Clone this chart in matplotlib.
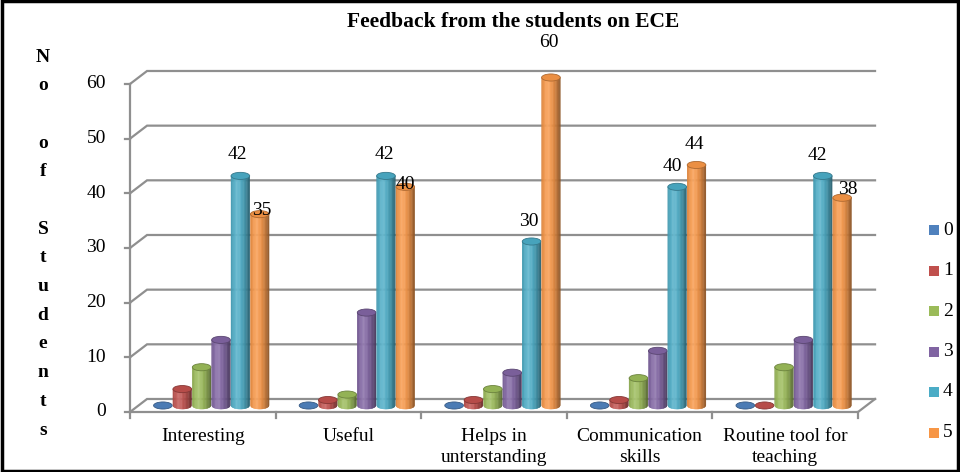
import numpy as np
import matplotlib
matplotlib.use('Agg')
import matplotlib.pyplot as plt
from matplotlib.patches import Ellipse, Rectangle
from matplotlib.collections import PolyCollection
from matplotlib.colors import to_rgb

plt.rcParams['font.family'] = ['Liberation Serif', 'DejaVu Serif']

# data
categories = ['Interesting', 'Useful', 'Helps in\nunterstanding',
              'Communication\nskills', 'Routine tool for\nteaching']
series_names = ['0', '1', '2', '3', '4', '5']
s0 = [0, 0, 0, 0, 0]
s1 = [3, 1, 1, 1, 0]
s2 = [7, 2, 3, 5, 7]
s3 = [12, 17, 6, 10, 12]
s4 = [42, 42, 30, 40, 42]
s5 = [35, 40, 60, 44, 38]
series = [s0, s1, s2, s3, s4, s5]
colors = ['#4F81BD', '#C0504D', '#9BBB59', '#8064A2', '#4BACC6', '#F79646']
yticks = [0, 10, 20, 30, 40, 50, 60]

fig = plt.figure(figsize=(9.6, 4.72), dpi=100)
ax = fig.add_axes([130 / 960, 60 / 472, 728 / 960, 328 / 472])
ax.set_xlim(0, 5)
ax.set_ylim(0, 60)
ax.axis('off')

DX, DY = 0.117, 2.38      # depth offset of the back wall (data units)
S, W, EH = 0.133, 0.128, 1.3  # bar spacing, bar width, ellipse height
grid_c = '#8f8f8f'
fs = 14
n = len(categories)

# back wall gridlines + floor
for v in yticks:
    ax.plot([0, DX, n + DX], [v, v + DY, v + DY], color=grid_c, lw=1.6,
            clip_on=False, zorder=1, solid_joinstyle='miter')
    ax.plot([-0.035, 0], [v, v], color=grid_c, lw=1.6, clip_on=False, zorder=1)
    ax.text(-0.165, v, str(v), ha='right', va='center', fontsize=fs)
ax.plot([0, 0], [0, 60], color=grid_c, lw=1.6, clip_on=False, zorder=1)
ax.plot([0, n, n + DX], [0, 0, DY], color=grid_c, lw=1.6, clip_on=False, zorder=1)
for i in range(n + 1):
    ax.plot([i, i], [0, -1.1], color=grid_c, lw=1.6, clip_on=False, zorder=1)
for i, c in enumerate(categories):
    ax.text(i + 0.5, -3.0, c, ha='center', va='top', fontsize=fs, linespacing=1.25)


def shade(base, t):
    b = np.array(to_rgb(base))
    dark = 0.45 * ((t - 0.35) / 0.65) ** 2
    light = 0.25 * np.exp(-((t - 0.35) / 0.18) ** 2)
    col = b * (1 - dark)
    col = col + (1 - col) * light * 0.6
    return np.clip(col, 0, 1)


NS = 24
for j, vals in enumerate(series):
    base = colors[j]
    for i, v in enumerate(vals):
        cx = i + 0.5 + DX / 2 + (j - 2.5) * S
        y0 = DY / 2
        y1 = v + DY / 2
        if v > 0:
            xs = np.linspace(cx - W / 2, cx + W / 2, NS + 1)
            polys, cols = [], []
            for k in range(NS):
                xa, xb = xs[k], xs[k + 1]
                ua = np.clip((xa - cx) / (W / 2), -1, 1)
                ub = np.clip((xb - cx) / (W / 2), -1, 1)
                ya = y0 - EH / 2 * np.sqrt(1 - ua ** 2)
                yb = y0 - EH / 2 * np.sqrt(1 - ub ** 2)
                polys.append([(xa, ya), (xb, yb), (xb, y1), (xa, y1)])
                cols.append(shade(base, (k + 0.5) / NS))
            pc = PolyCollection(polys, facecolors=cols, edgecolors=cols,
                                linewidths=0.3, clip_on=False, zorder=3 + j)
            ax.add_collection(pc)
        top_c = np.array(to_rgb(base)) * 0.95
        ax.add_patch(Ellipse((cx, y1), W, EH, facecolor=top_c,
                             edgecolor=np.array(to_rgb(base)) * 0.7,
                             lw=0.6, clip_on=False, zorder=3 + j))

# value labels for series 4 and 5 (pixel offsets from the bar tops)
label_off = {4: [(-3, 21), (-2, 21), (-3, 20), (-5, 20), (-5, 20)],
             5: [(2, 4), (0, 2), (-2, 35), (-2, 20), (6, 8)]}
for j, offs in label_off.items():
    for i, v in enumerate(series[j]):
        cx = i + 0.5 + DX / 2 + (j - 2.5) * S
        ax.annotate(str(v), (cx, v + DY / 2),
                    xytext=(offs[i][0] * 0.72, offs[i][1] * 0.72),
                    textcoords='offset points', ha='center', va='center',
                    fontsize=fs, zorder=20, annotation_clip=False)

# title and stacked y label
fig.text(513 / 960, 1 - 22 / 472, 'Feedback from the students on ECE',
         ha='center', va='center', fontsize=15.5, fontweight='bold')
ylab = ['N', 'o', '', 'o', 'f', '', 'S', 't', 'u', 'd', 'e', 'n', 't', 's']
for k, ch in enumerate(ylab):
    if ch:
        fig.text(43 / 960, 1 - (57 + k * 28.7) / 472, ch, ha='center',
                 va='center', fontsize=fs, fontweight='bold')

# legend
for j, name in enumerate(series_names):
    yc = 1 - (230 + j * 40.5) / 472
    fig.patches.append(Rectangle((929 / 960, yc - 5 / 472), 10 / 960, 10 / 472,
                                 transform=fig.transFigure, facecolor=colors[j],
                                 edgecolor='none'))
    fig.text(943 / 960, yc, name, ha='left', va='center', fontsize=fs)

fig.patches.append(Rectangle((0.002, 0.002), 0.996, 0.995, transform=fig.transFigure,
                             fill=False, edgecolor='black', lw=2.5))

plt.savefig('out.png', dpi=100)
plt.close()
